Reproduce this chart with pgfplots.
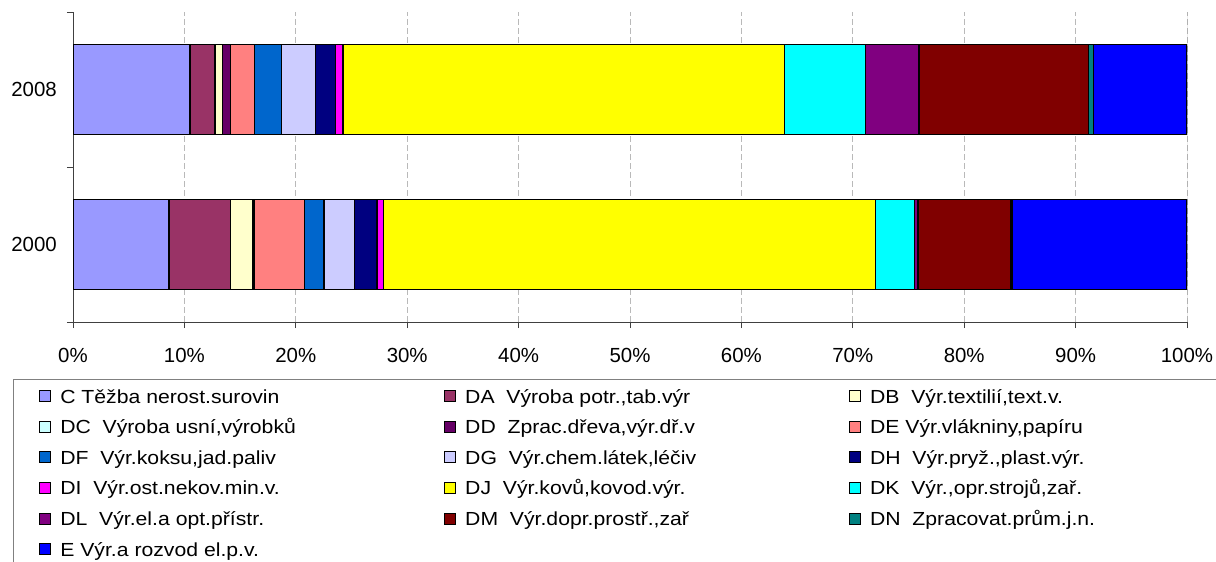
\documentclass[border=0pt]{standalone}
\usepackage{pgfplots}
\pgfplotsset{compat=1.18}
\usepackage{fontspec}
\setmainfont{Liberation Sans}
\newfontfamily\legfont{Liberation Sans}[FakeStretch=1.12]
\definecolor{cC}{HTML}{9999FF}
\definecolor{cDA}{HTML}{993366}
\definecolor{cDB}{HTML}{FFFFCC}
\definecolor{cDC}{HTML}{CCFFFF}
\definecolor{cDD}{HTML}{660066}
\definecolor{cDE}{HTML}{FF8080}
\definecolor{cDF}{HTML}{0066CC}
\definecolor{cDG}{HTML}{CCCCFF}
\definecolor{cDH}{HTML}{000080}
\definecolor{cDI}{HTML}{FF00FF}
\definecolor{cDJ}{HTML}{FFFF00}
\definecolor{cDK}{HTML}{00FFFF}
\definecolor{cDL}{HTML}{800080}
\definecolor{cDM}{HTML}{800000}
\definecolor{cDN}{HTML}{008080}
\definecolor{cE}{HTML}{0000FF}
\pgfplotsset{
  sqlegend/.style={legend image code/.code={\draw[##1,draw=black,line width=0.9bp] (0bp,-5.5bp) rectangle (11bp,5.5bp);}},
}
\newcommand\LE[1]{\hspace{9bp}\makebox[384bp][l]{#1}}
\begin{document}
\begin{tikzpicture}
\useasboundingbox (0,0) rectangle (1216bp,562bp);
\begin{axis}[
  at={(73bp,240bp)}, anchor=south west,
  scale only axis, width=1114bp, height=310bp,
  xbar stacked, bar width=0.58,
  xmin=0, xmax=100, ymin=-0.5, ymax=1.5,
  enlargelimits=false,
  axis x line*=bottom, axis y line*=left,
  axis line style={black!75, line width=1bp},
  tick align=outside,
  major tick length=6bp,
  xtick={0,10,...,100},
  xticklabels={0\%,10\%,20\%,30\%,40\%,50\%,60\%,70\%,80\%,90\%,100\%},
  xtick style={black!75, line width=0.8bp},
  xticklabel style={font=\fontsize{20.5}{24}\selectfont, anchor=base, yshift=-34bp},
  ytick={0,1}, yticklabels={2000,2008},
  ytick style={draw=none},
  yticklabel style={font=\fontsize{20.5}{24}\selectfont, anchor=base east, inner sep=0pt, xshift=-10bp, yshift=-7.3bp},
  extra y ticks={-0.5,0.5,1.5}, extra y tick labels={},
  extra y tick style={ytick style={draw=black!75, line width=0.8bp}, grid=none},
  xmajorgrids,
  major grid style={gray!55, dash pattern=on 6bp off 3bp, line width=0.8bp},
  every axis plot/.append style={sqlegend, draw=black, line width=1.5bp},
  legend columns=3,
  legend cell align=left,
  legend style={at={(-0.05386,-0.18387)}, anchor=north west,
    draw=black!50, line width=0.8bp, inner xsep=26bp, inner ysep=1.5bp,
    column sep=0pt, row sep=0pt,
    font=\legfont\fontsize{19}{22}\selectfont,
    nodes={inner sep=0pt, text height=15.6bp, text depth=2bp, minimum height=30.6bp, anchor=west}},
]
\draw[black!50, line width=0.8bp] (axis cs:100,-0.5) -- (axis cs:100,1.5);
\addplot[fill=cC] coordinates {(8.6,0) (10.5,1)};
\addlegendentry{\LE{C Těžba nerost.surovin}}
\addplot[fill=cDA] coordinates {(5.55,0) (2.25,1)};
\addlegendentry{\LE{DA\ \ Výroba potr.,tab.výr}}
\addplot[fill=cDB] coordinates {(1.95,0) (0.65,1)};
\addlegendentry{\LE{DB\ \ Výr.textilií,text.v.}}
\addplot[fill=cDC] coordinates {(0.1,0) (0,1)};
\addlegendentry{\LE{DC\ \ Výroba usní,výrobků}}
\addplot[fill=cDD] coordinates {(0.05,0) (0.75,1)};
\addlegendentry{\LE{DD\ \ Zprac.dřeva,výr.dř.v}}
\addplot[fill=cDE] coordinates {(4.55,0) (2.15,1)};
\addlegendentry{\LE{DE Výr.vlákniny,papíru}}
\addplot[fill=cDF] coordinates {(1.75,0) (2.4,1)};
\addlegendentry{\LE{DF\ \ Výr.koksu,jad.paliv}}
\addplot[fill=cDG] coordinates {(2.7,0) (3.05,1)};
\addlegendentry{\LE{DG\ \ Výr.chem.látek,léčiv}}
\addplot[fill=cDH] coordinates {(2.05,0) (1.8,1)};
\addlegendentry{\LE{DH\ \ Výr.pryž.,plast.výr.}}
\addplot[fill=cDI] coordinates {(0.55,0) (0.7,1)};
\addlegendentry{\LE{DI\ \ Výr.ost.nekov.min.v.}}
\addplot[fill=cDJ] coordinates {(44.2,0) (39.6,1)};
\addlegendentry{\LE{DJ\ \ Výr.kovů,kovod.výr.}}
\addplot[fill=cDK] coordinates {(3.5,0) (7.3,1)};
\addlegendentry{\LE{DK\ \ Výr.,opr.strojů,zař.}}
\addplot[fill=cDL] coordinates {(0.3,0) (4.8,1)};
\addlegendentry{\LE{DL\ \ Výr.el.a opt.přístr.}}
\addplot[fill=cDM] coordinates {(8.3,0) (15.2,1)};
\addlegendentry{\LE{DM\ \ Výr.dopr.prostř.,zař}}
\addplot[fill=cDN] coordinates {(0.15,0) (0.45,1)};
\addlegendentry{\LE{DN\ \ Zpracovat.prům.j.n.}}
\addplot[fill=cE] coordinates {(15.7,0) (8.4,1)};
\addlegendentry{\LE{E Výr.a rozvod el.p.v.}}
\end{axis}
\end{tikzpicture}
\end{document}
